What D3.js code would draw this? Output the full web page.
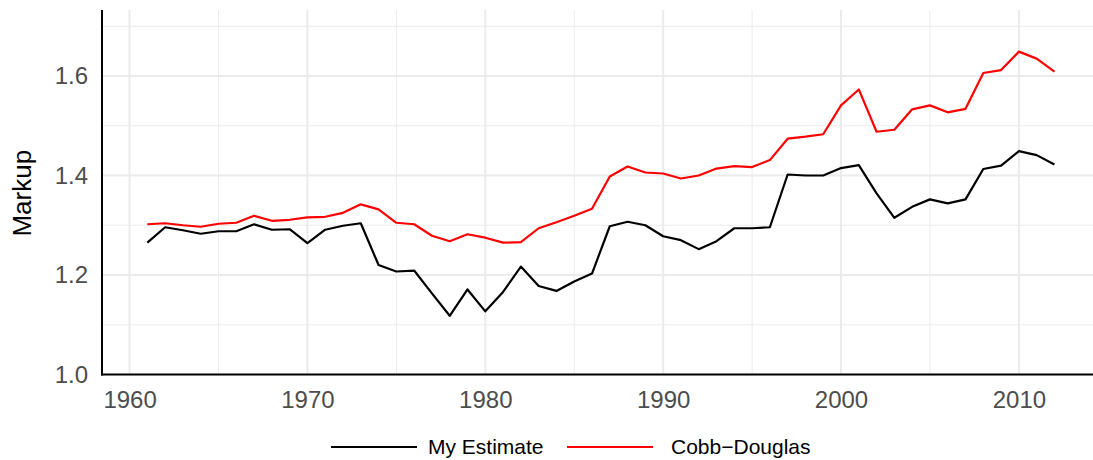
<!DOCTYPE html>
<html>
<head>
<meta charset="utf-8">
<script src="https://cdn.jsdelivr.net/npm/d3@7"></script>
<style>
  body { margin: 0; background: #fff; }
  svg { display: block; font-family: "Liberation Sans", Arial, sans-serif; }
</style>
</head>
<body>
<div id="chart"></div>
<script>
const years = d3.range(1961, 2013);

const myEstimate = [
  1.265, 1.296, 1.290, 1.283, 1.288, 1.288, 1.302, 1.291, 1.292, 1.264,
  1.291, 1.299, 1.304, 1.220, 1.207, 1.209, 1.163, 1.118, 1.171, 1.127,
  1.166, 1.217, 1.178, 1.168, 1.187, 1.203, 1.298, 1.307, 1.300, 1.278,
  1.270, 1.252, 1.268, 1.294, 1.294, 1.296, 1.402, 1.400, 1.400, 1.415,
  1.421, 1.364, 1.315, 1.337, 1.352, 1.344, 1.352, 1.413, 1.420, 1.449,
  1.441, 1.422
];

const cobbDouglas = [
  1.302, 1.304, 1.300, 1.297, 1.303, 1.305, 1.319, 1.309, 1.311, 1.316,
  1.317, 1.325, 1.342, 1.332, 1.305, 1.302, 1.279, 1.268, 1.282, 1.275,
  1.265, 1.266, 1.294, 1.306, 1.319, 1.333, 1.398, 1.418, 1.406, 1.404,
  1.394, 1.400, 1.414, 1.419, 1.417, 1.431, 1.474, 1.478, 1.483, 1.541,
  1.573, 1.488, 1.492, 1.533, 1.541, 1.527, 1.534, 1.606, 1.612, 1.649,
  1.635, 1.609
];

const seriesNames = ["My Estimate", "Cobb\u2212Douglas"];
const seriesColors = ["#000000", "#ff0000"];
const xTicks = [1960, 1970, 1980, 1990, 2000, 2010];
const xMinor = [1965, 1975, 1985, 1995, 2005];
const yTicks = [1.0, 1.2, 1.4, 1.6];
const yMinor = [1.1, 1.3, 1.5, 1.7];

const w = 1093;
const h = 460;
const m = { left: 102, right: 1099.8, top: 10, bottom: 374.5 };

const svg = d3.select("#chart").append("svg")
  .attr("width", w)
  .attr("height", h);

const x = d3.scaleLinear().domain([1958.45, 2014.55]).range([m.left, m.right]);
const y = d3.scaleLinear().domain([1.0, 1.7327]).range([m.bottom, m.top]);

// grid
const grid = svg.append("g");
grid.selectAll(".xminor").data(xMinor).enter().append("line")
  .attr("x1", d => x(d)).attr("x2", d => x(d))
  .attr("y1", m.top).attr("y2", m.bottom)
  .attr("stroke", "#ebebeb").attr("stroke-width", 1);
grid.selectAll(".yminor").data(yMinor).enter().append("line")
  .attr("x1", m.left).attr("x2", w)
  .attr("y1", d => y(d)).attr("y2", d => y(d))
  .attr("stroke", "#ebebeb").attr("stroke-width", 1);
grid.selectAll(".xmajor").data(xTicks).enter().append("line")
  .attr("x1", d => x(d)).attr("x2", d => x(d))
  .attr("y1", m.top).attr("y2", m.bottom)
  .attr("stroke", "#ebebeb").attr("stroke-width", 2);
grid.selectAll(".ymajor").data(yTicks).enter().append("line")
  .attr("x1", m.left).attr("x2", w)
  .attr("y1", d => y(d)).attr("y2", d => y(d))
  .attr("stroke", "#ebebeb").attr("stroke-width", 2);

// lines
const line = d3.line()
  .x((d, i) => x(years[i]))
  .y(d => y(d));

[myEstimate, cobbDouglas].forEach((series, k) => {
  svg.append("path")
    .datum(series)
    .attr("fill", "none")
    .attr("stroke", seriesColors[k])
    .attr("stroke-width", 2.2)
    .attr("stroke-linejoin", "round")
    .attr("d", line);
});

// axes
const xAxis = svg.append("g")
  .attr("transform", `translate(0,${m.bottom})`)
  .call(d3.axisBottom(x).tickValues(xTicks).tickFormat(d3.format("d")).tickSize(0).tickPadding(16));
xAxis.select(".domain").remove();
xAxis.selectAll("text").attr("font-size", 24).attr("fill", "#4d4d4d").attr("font-family", "Liberation Sans, Arial, sans-serif");

const yAxis = svg.append("g")
  .attr("transform", `translate(${m.left},0)`)
  .call(d3.axisLeft(y).tickValues(yTicks).tickFormat(d3.format(".1f")).tickSize(0).tickPadding(14));
yAxis.select(".domain").remove();
yAxis.selectAll("text").attr("font-size", 24).attr("fill", "#4d4d4d").attr("font-family", "Liberation Sans, Arial, sans-serif");

svg.append("line")
  .attr("x1", m.left).attr("x2", m.left).attr("y1", m.top).attr("y2", m.bottom + 1)
  .attr("stroke", "#000").attr("stroke-width", 2);
svg.append("line")
  .attr("x1", m.left - 1).attr("x2", w).attr("y1", m.bottom).attr("y2", m.bottom)
  .attr("stroke", "#000").attr("stroke-width", 2);

// y title
svg.append("text")
  .attr("transform", `translate(31,${(m.top + m.bottom) / 2 + 1}) rotate(-90)`)
  .attr("text-anchor", "middle")
  .attr("font-size", 26)
  .attr("fill", "#000")
  .text("Markup");

// legend
const legendItems = [
  { x1: 331, x2: 417, tx: 428 },
  { x1: 567, x2: 653, tx: 671 }
];
const legend = svg.append("g");
legendItems.forEach((d, k) => {
  legend.append("line")
    .attr("x1", d.x1).attr("x2", d.x2)
    .attr("y1", 447).attr("y2", 447)
    .attr("stroke", seriesColors[k]).attr("stroke-width", 2.2);
  legend.append("text")
    .attr("x", d.tx).attr("y", 447)
    .attr("dy", "0.35em")
    .attr("font-size", 21)
    .attr("fill", "#000")
    .text(seriesNames[k]);
});
</script>
</body>
</html>
